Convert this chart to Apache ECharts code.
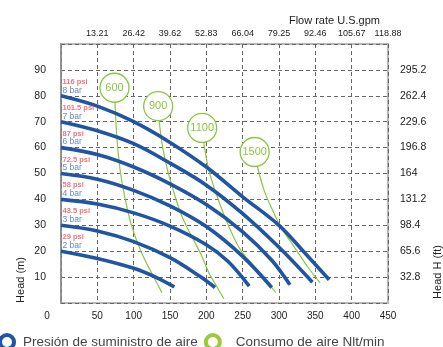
<!DOCTYPE html>
<html>
<head>
<meta charset="utf-8">
<script src="https://cdn.jsdelivr.net/npm/echarts@6.0.0/dist/echarts.min.js"></script>
<style>
  html, body { margin: 0; padding: 0; background: #fff; }
  #chart { width: 443px; height: 347px; }
</style>
</head>
<body>
<div id="chart"></div>
<script>
// 刻度文字
const gpmLabels = ['13.21', '26.42', '39.62', '52.83', '66.04', '79.25', '92.46', '105.67', '118.88']
const ftLabels = ['32.8', '65.6', '98.4', '131.2', '164', '196.8', '229.6', '262.4', '295.2']

// 压力曲线 (流量 l/min, 扬程 m)
const psiLabels = ['116 psi', '101.5 psi', '87 psi', '72.5 psi', '58 psi', '43.5 psi', '29 psi']
const barLabels = ['8 bar', '7 bar', '6 bar', '5 bar', '4 bar', '3 bar', '2 bar']
const bar8 = [[0, 80], [50, 76], [100, 70], [150, 62], [200, 52.5], [250, 41], [300, 30], [335, 19.5], [369, 9]]
const bar7 = [[0, 70], [50, 66.5], [100, 61.5], [150, 54], [200, 45.5], [250, 34.5], [300, 21.5], [346, 8]]
const bar6 = [[0, 60], [50, 57.3], [100, 52.5], [150, 46], [200, 38], [250, 27.5], [290, 16.5], [315, 7]]
const bar5 = [[0, 50], [50, 47.8], [100, 43.5], [150, 37.5], [200, 29.5], [250, 18], [290, 6]]
const bar4 = [[0, 40], [50, 38.2], [100, 34.8], [150, 29.7], [200, 22.5], [230, 16], [259, 6.5]]
const bar3 = [[0, 30], [50, 27.8], [100, 23.7], [150, 17.5], [190, 10.5], [212, 6]]
const bar2 = [[0, 20], [50, 17.2], [100, 13.4], [130, 10], [156, 6.2]]

// 耗气量曲线 (Nlt/min)
const airNames = ['600', '900', '1100', '1500']
const airTags = [[73.6, 83.1], [133.7, 76], [194.3, 67.6], [266.5, 58.3]]
const air600 = [[73.6, 83], [75.5, 70], [78, 60], [82, 50], [88.5, 40], [97, 30], [110, 20], [124, 12], [139, 4]]
const air900 = [[133.7, 76], [136, 68], [140, 60], [146, 52], [154, 44], [163, 36], [172, 30], [183, 24], [194, 18], [203, 12], [213, 7], [224, 1.7]]
const air1100 = [[194.3, 67.6], [196.5, 61.7], [203.4, 51.4], [215, 41], [231, 29.5], [247, 20.5], [270, 12.7], [295.5, 4.1]]
const air1500 = [[266.5, 58.3], [270.3, 52.7], [279.4, 43.6], [291, 35.9], [302.4, 29.4], [320.8, 21.7], [339.3, 14], [356.7, 7.8]]

const BLUE = '#1f55a3'
const GREEN = '#8cc63f'
const FONT = 'Liberation Sans'
const pressName = 'Presión de suministro de aire'
const airName = 'Consumo de aire Nlt/min'

const chart = echarts.init(document.getElementById('chart'))

const pressSeries = [bar8, bar7, bar6, bar5, bar4, bar3, bar2].map(d => ({
  name: pressName,
  type: 'line',
  data: d,
  smooth: 0.35,
  symbol: 'none',
  lineStyle: { color: BLUE, width: 3.6 },
  itemStyle: { color: BLUE },
  z: 3,
  silent: true
}))

const airSeries = [air600, air900, air1100, air1500].map(d => ({
  name: airName,
  type: 'line',
  data: d,
  smooth: 0.35,
  symbol: 'none',
  lineStyle: { color: GREEN, width: 1.2 },
  itemStyle: { color: GREEN },
  z: 2,
  silent: true
}))

// 曲线起点的 psi / bar 标注
const startLabels = {
  type: 'scatter',
  symbolSize: 0,
  silent: true,
  z: 5,
  data: [bar8, bar7, bar6, bar5, bar4, bar3, bar2].map((d, i) => ({
    value: d[0],
    label: {
      show: true,
      position: [1.5, -18],
      formatter: '{p|' + psiLabels[i] + '}\n{b|' + barLabels[i] + '}',
      rich: {
        p: { fontSize: 7.5, lineHeight: 8, color: '#ef4f5c', fontFamily: FONT, fontWeight: 'bold' },
        b: { fontSize: 8.5, lineHeight: 9, color: '#3f6db8', fontFamily: FONT }
      }
    }
  }))
}

// 耗气量圆圈
const airBubbles = {
  type: 'scatter',
  symbolSize: 29,
  silent: true,
  z: 6,
  itemStyle: { color: '#fff', borderColor: GREEN, borderWidth: 1.3, opacity: 1 },
  label: { show: true, position: 'inside', formatter: '{b}', color: GREEN, fontSize: 11, fontFamily: FONT },
  data: airTags.map((p, i) => ({ value: p, name: airNames[i] }))
}

const option = {
  animation: false,
  title: {
    text: 'Flow rate U.S.gpm',
    right: 58,
    top: 10,
    textStyle: { fontSize: 11, fontWeight: 'normal', color: '#222', fontFamily: FONT }
  },
  legend: {
    left: -2,
    top: 333,
    padding: 0,
    icon: 'circle',
    itemWidth: 14,
    itemHeight: 14,
    itemGap: 6,
    textStyle: { fontSize: 13.5, color: '#444', fontFamily: FONT, padding: [0, 0, 0, 4] },
    data: [
      { name: pressName, itemStyle: { color: '#fff', borderColor: BLUE, borderWidth: 4 } },
      {
        name: airName,
        itemStyle: { color: '#fff', borderColor: '#9acb3c', borderWidth: 4 },
        textStyle: { fontSize: 13.5, color: '#444', fontFamily: FONT, padding: [0, 0, 0, 11] }
      }
    ]
  },
  grid: {
    left: 61,
    right: 55,
    top: 44,
    bottom: 44,
    show: true,
    borderColor: '#b8b8b8',
    borderWidth: 2
  },
  graphic: [
    {
      type: 'text', x: 21, y: 280, rotation: Math.PI / 2,
      style: { text: 'Head (m)', align: 'center', verticalAlign: 'middle', fontSize: 11, fill: '#222', fontFamily: FONT }
    },
    {
      type: 'text', x: 438, y: 272, rotation: Math.PI / 2,
      style: { text: 'Head H (ft)', align: 'center', verticalAlign: 'middle', fontSize: 11, fill: '#222', fontFamily: FONT }
    }
  ],
  xAxis: [
    {
      type: 'value',
      position: 'bottom',
      min: 0,
      max: 450,
      interval: 50,
      axisLine: { show: false },
      axisTick: { show: false },
      axisLabel: {
        margin: 8,
        fontSize: 10,
        color: '#222',
        fontFamily: FONT,
        formatter: v => (v === 0 ? '{z|0}' : String(v)),
        rich: { z: { padding: [0, 28, 0, 0], fontSize: 10, color: '#222', fontFamily: FONT } }
      },
      splitLine: { lineStyle: { color: '#666', type: [4, 3], width: 1 } }
    },
    {
      type: 'value',
      position: 'top',
      min: 0,
      max: 450,
      interval: 50,
      axisLine: { show: false },
      axisTick: { show: false },
      splitLine: { show: false },
      axisLabel: {
        margin: 6,
        fontSize: 9,
        color: '#222',
        fontFamily: FONT,
        formatter: v => (v === 0 ? '' : gpmLabels[v / 50 - 1])
      }
    }
  ],
  yAxis: [
    {
      type: 'value',
      position: 'left',
      min: 0,
      max: 100,
      interval: 10,
      axisLine: { show: true, lineStyle: { color: '#8a8a8a', width: 1.5 } },
      axisTick: { show: false },
      axisLabel: {
        margin: 15,
        fontSize: 10.5,
        color: '#222',
        fontFamily: FONT,
        formatter: v => (v === 0 || v === 100 ? '' : String(v))
      },
      splitLine: { lineStyle: { color: '#666', type: [4, 3], width: 1 } }
    },
    {
      type: 'value',
      position: 'right',
      min: 0,
      max: 100,
      interval: 10,
      axisLine: { show: false },
      axisTick: { show: false },
      splitLine: { show: false },
      axisLabel: {
        margin: 12,
        fontSize: 10.5,
        color: '#222',
        fontFamily: FONT,
        formatter: v => (v === 0 || v === 100 ? '' : ftLabels[v / 10 - 1])
      }
    }
  ],
  series: [...airSeries, ...pressSeries, startLabels, airBubbles]
}

chart.setOption(option)
</script>
</body>
</html>
